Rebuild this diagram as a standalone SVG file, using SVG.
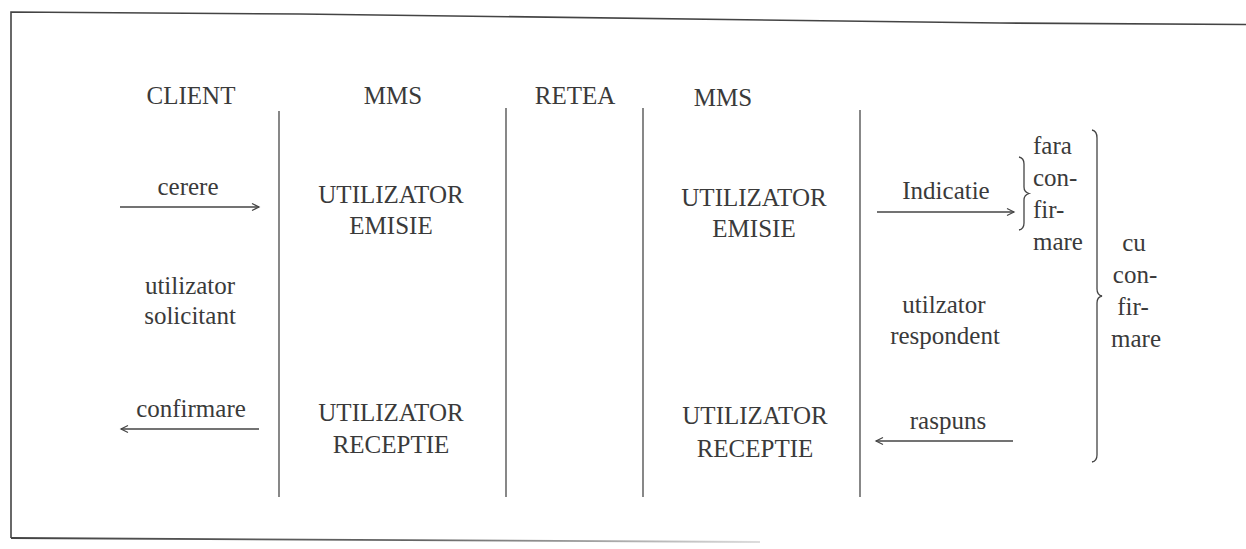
<svg xmlns="http://www.w3.org/2000/svg" width="1246" height="549" viewBox="0 0 1246 549">
<defs>
<style>
text{font-family:"Liberation Serif","Times New Roman",serif;font-size:25px;fill:#3a3a3a}
.c{text-anchor:middle}
.ln{stroke:#555;stroke-width:1.4;fill:none}
.fr{stroke:#444;stroke-width:1.6;fill:none}
.ar{stroke:#444;stroke-width:1.3;fill:none}
</style>
<marker id="ah" markerUnits="userSpaceOnUse" markerWidth="10" markerHeight="10" refX="8" refY="5" orient="auto">
<path d="M1,1.5 L8,5 L1,8.5" fill="none" stroke="#444" stroke-width="1.2"/>
</marker>
<linearGradient id="fade" x1="0" y1="0" x2="1" y2="0">
<stop offset="0" stop-color="#444"/>
<stop offset="0.55" stop-color="#666"/>
<stop offset="1" stop-color="#ddd"/>
</linearGradient>
</defs>
<rect width="1246" height="549" fill="#fff"/>
<g id="frame">
<polyline class="fr" points="1246,24.5 1000,23 300,14 11,12 11,538"/>
<path d="M11,538 L760,542" stroke="url(#fade)" stroke-width="1.8" fill="none"/>
</g>
<g id="lanes">
<line class="ln" x1="279" y1="111" x2="279" y2="497"/>
<line class="ln" x1="506" y1="108" x2="506" y2="497"/>
<line class="ln" x1="643" y1="108" x2="643" y2="497"/>
<line class="ln" x1="860" y1="110" x2="860" y2="497"/>
</g>
<g id="headers">
<text class="c" x="191" y="104">CLIENT</text>
<text class="c" x="393" y="104">MMS</text>
<text class="c" x="575" y="104">RETEA</text>
<text class="c" x="723" y="106">MMS</text>
</g>
<g id="client-solicitant">
<text class="c" x="190" y="294">utilizator</text>
<text class="c" x="190" y="324">solicitant</text>
</g>
<g id="mms1-emisie">
<text class="c" x="391" y="203">UTILIZATOR</text>
<text class="c" x="391" y="234">EMISIE</text>
</g>
<g id="mms1-receptie">
<text class="c" x="391" y="421">UTILIZATOR</text>
<text class="c" x="391" y="453">RECEPTIE</text>
</g>
<g id="mms2-emisie">
<text class="c" x="754" y="206">UTILIZATOR</text>
<text class="c" x="754" y="237">EMISIE</text>
</g>
<g id="mms2-receptie">
<text class="c" x="755" y="424">UTILIZATOR</text>
<text class="c" x="755" y="457">RECEPTIE</text>
</g>
<g id="respondent">
<text class="c" x="944" y="313">utilzator</text>
<text class="c" x="945" y="344">respondent</text>
</g>
<g id="fara-confirmare">
<text x="1033" y="154">fara</text>
<text x="1033" y="186">con-</text>
<text x="1033" y="218">fir-</text>
<text x="1033" y="250">mare</text>
<path class="ar" d="M1019,157 Q1024,158 1024,164 L1024,187 Q1024,192 1029,193.5 Q1024,195 1024,200 L1024,223 Q1024,229 1019,230"/>
</g>
<g id="cu-confirmare">
<text class="c" x="1134" y="251">cu</text>
<text class="c" x="1135" y="283">con-</text>
<text class="c" x="1133" y="315">fir-</text>
<text class="c" x="1136" y="347">mare</text>
<path class="ar" d="M1092,130 Q1097,131 1097,138 L1097,289 Q1097,295 1102,296 Q1097,297 1097,303 L1097,455 Q1097,461 1092,462"/>
</g>
<g id="connectors">
<text class="c" x="188" y="195">cerere</text>
<line class="ar" x1="120" y1="207" x2="259" y2="207" marker-end="url(#ah)"/>
<text class="c" x="191" y="417">confirmare</text>
<line class="ar" x1="259" y1="429" x2="121" y2="429" marker-end="url(#ah)"/>
<text class="c" x="946" y="199">Indicatie</text>
<line class="ar" x1="877" y1="212" x2="1014" y2="212" marker-end="url(#ah)"/>
<text class="c" x="948" y="429">raspuns</text>
<line class="ar" x1="1013" y1="441" x2="876" y2="441" marker-end="url(#ah)"/>
</g>
</svg>
